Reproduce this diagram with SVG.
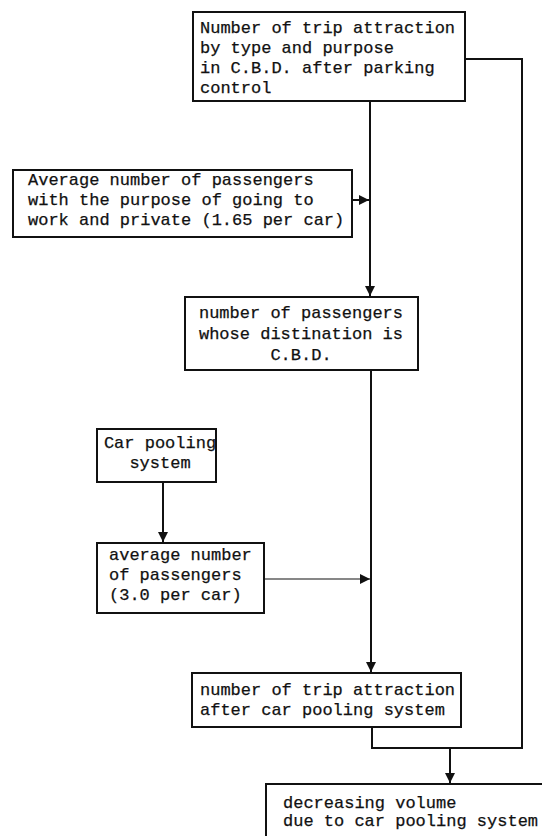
<svg xmlns="http://www.w3.org/2000/svg" width="542" height="836" viewBox="0 0 542 836">
  <style>
    .box { fill: #ffffff; stroke: #111111; stroke-width: 2; }
    .lbl { font-family: "Liberation Mono", "Courier New", monospace; font-size: 17px; fill: #111111; stroke: #111111; stroke-width: 0.25; }
    .mid { text-anchor: middle; }
    .wire { fill: none; stroke: #111111; stroke-width: 2; }
    .thin { stroke-width: 1.2; }
  </style>
  <defs>
    <marker id="ah" viewBox="0 0 10 10" refX="10" refY="5" markerWidth="10" markerHeight="10" markerUnits="userSpaceOnUse" orient="auto">
      <path d="M0,0 L10,5 L0,10 z" fill="#111111"/>
    </marker>
  </defs>
  <rect width="542" height="836" fill="#ffffff"/>

  <!-- connectors -->
  <g id="connectors">
    <path class="wire" d="M370,101 V296" marker-end="url(#ah)"/>
    <path class="wire" d="M352,200 H369" marker-end="url(#ah)"/>
    <path class="wire" d="M465,59 H522 V748"/>
    <path class="wire" d="M371,370 V672" marker-end="url(#ah)"/>
    <path class="wire" d="M163,482 V542" marker-end="url(#ah)"/>
    <path class="wire thin" d="M264,579 H370" marker-end="url(#ah)"/>
    <path class="wire" d="M372,727 V748 H523"/>
    <path class="wire" d="M450,748 V783" marker-end="url(#ah)"/>
  </g>

  <!-- attraction after parking control -->
  <g id="n1">
    <rect class="box" x="193" y="12" width="272" height="89"/>
    <text class="lbl" x="200" y="33">Number of trip attraction</text>
    <text class="lbl" x="200" y="53">by type and purpose</text>
    <text class="lbl" x="200" y="73">in C.B.D. after parking</text>
    <text class="lbl" x="200" y="93">control</text>
  </g>

  <!-- average passengers, work and private -->
  <g id="n2">
    <rect class="box" x="13" y="170" width="339" height="67"/>
    <text class="lbl" x="28" y="185">Average number of passengers</text>
    <text class="lbl" x="28" y="205">with the purpose of going to</text>
    <text class="lbl" x="28" y="225">work and private (1.65 per car)</text>
  </g>

  <!-- passengers bound for the C.B.D. -->
  <g id="n3">
    <rect class="box" x="185" y="297" width="233" height="73"/>
    <text class="lbl mid" x="301" y="318">number of passengers</text>
    <text class="lbl mid" x="301" y="339">whose distination is</text>
    <text class="lbl mid" x="301" y="360">C.B.D.</text>
  </g>

  <!-- car pooling system -->
  <g id="n4">
    <rect class="box" x="97" y="429" width="119" height="53"/>
    <text class="lbl mid" x="160" y="448">Car pooling</text>
    <text class="lbl mid" x="160" y="468">system</text>
  </g>

  <!-- average passengers with car pooling -->
  <g id="n5">
    <rect class="box" x="97" y="543" width="167" height="70"/>
    <text class="lbl" x="109" y="560">average number</text>
    <text class="lbl" x="109" y="580">of passengers</text>
    <text class="lbl" x="109" y="600">(3.0 per car)</text>
  </g>

  <!-- attraction after car pooling -->
  <g id="n6">
    <rect class="box" x="192" y="673" width="269" height="54"/>
    <text class="lbl" x="200" y="695">number of trip attraction</text>
    <text class="lbl" x="200" y="715">after car pooling system</text>
  </g>

  <!-- decreasing volume -->
  <g id="n7">
    <rect class="box" x="266" y="784" width="300" height="80"/>
    <text class="lbl" x="283" y="808">decreasing volume</text>
    <text class="lbl" x="283" y="826">due to car pooling system</text>
  </g>
</svg>
